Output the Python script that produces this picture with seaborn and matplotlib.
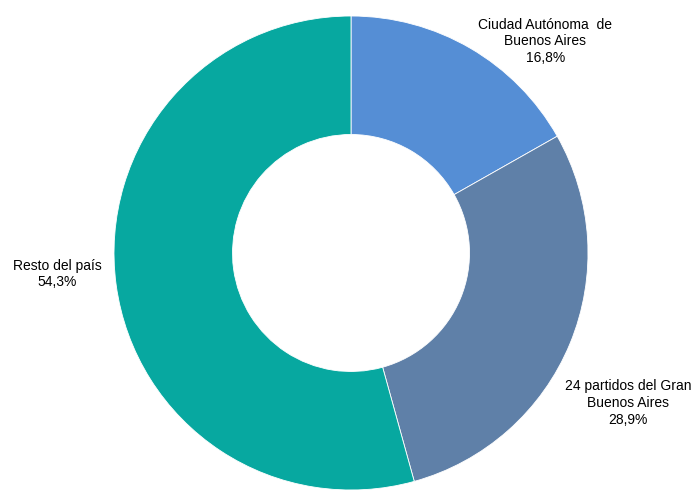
import matplotlib
matplotlib.use("Agg")
import matplotlib.pyplot as plt
import seaborn as sns

categories = ["Ciudad Autónoma  de\nBuenos Aires", "24 partidos del Gran\nBuenos Aires", "Resto del país"]
shares = [16.8, 28.9, 54.3]
colors = ["#558ED5", "#5F80A8", "#07A8A0"]
# label centres in data units (pie radius = 1)
label_pos = [(0.82, 0.893), (1.17, -0.633), (-1.24, -0.089)]

sns.set_theme(style="white")
plt.rcParams["font.family"] = ["Liberation Sans", "DejaVu Sans"]

fig = plt.figure(figsize=(6.95, 4.9), dpi=100)
ax = fig.add_axes([0, 0, 1, 1])
ax.pie(shares, colors=colors, startangle=90, counterclock=False, radius=1,
       wedgeprops=dict(width=0.5, edgecolor="white", linewidth=0.6))
for name, val, (x, y) in zip(categories, shares, label_pos):
    txt = f"{name}\n{val:.1f}%".replace(".", ",")
    ax.text(x, y, txt, ha="center", va="center", fontsize=10, color="black", linespacing=1.25)
ax.set_xlim(-351 / 237, 344 / 237)
ax.set_ylim(-237 / 237, 253 / 237)
ax.set_aspect("auto")
ax.axis("off")
fig.savefig("out.png", dpi=100)
